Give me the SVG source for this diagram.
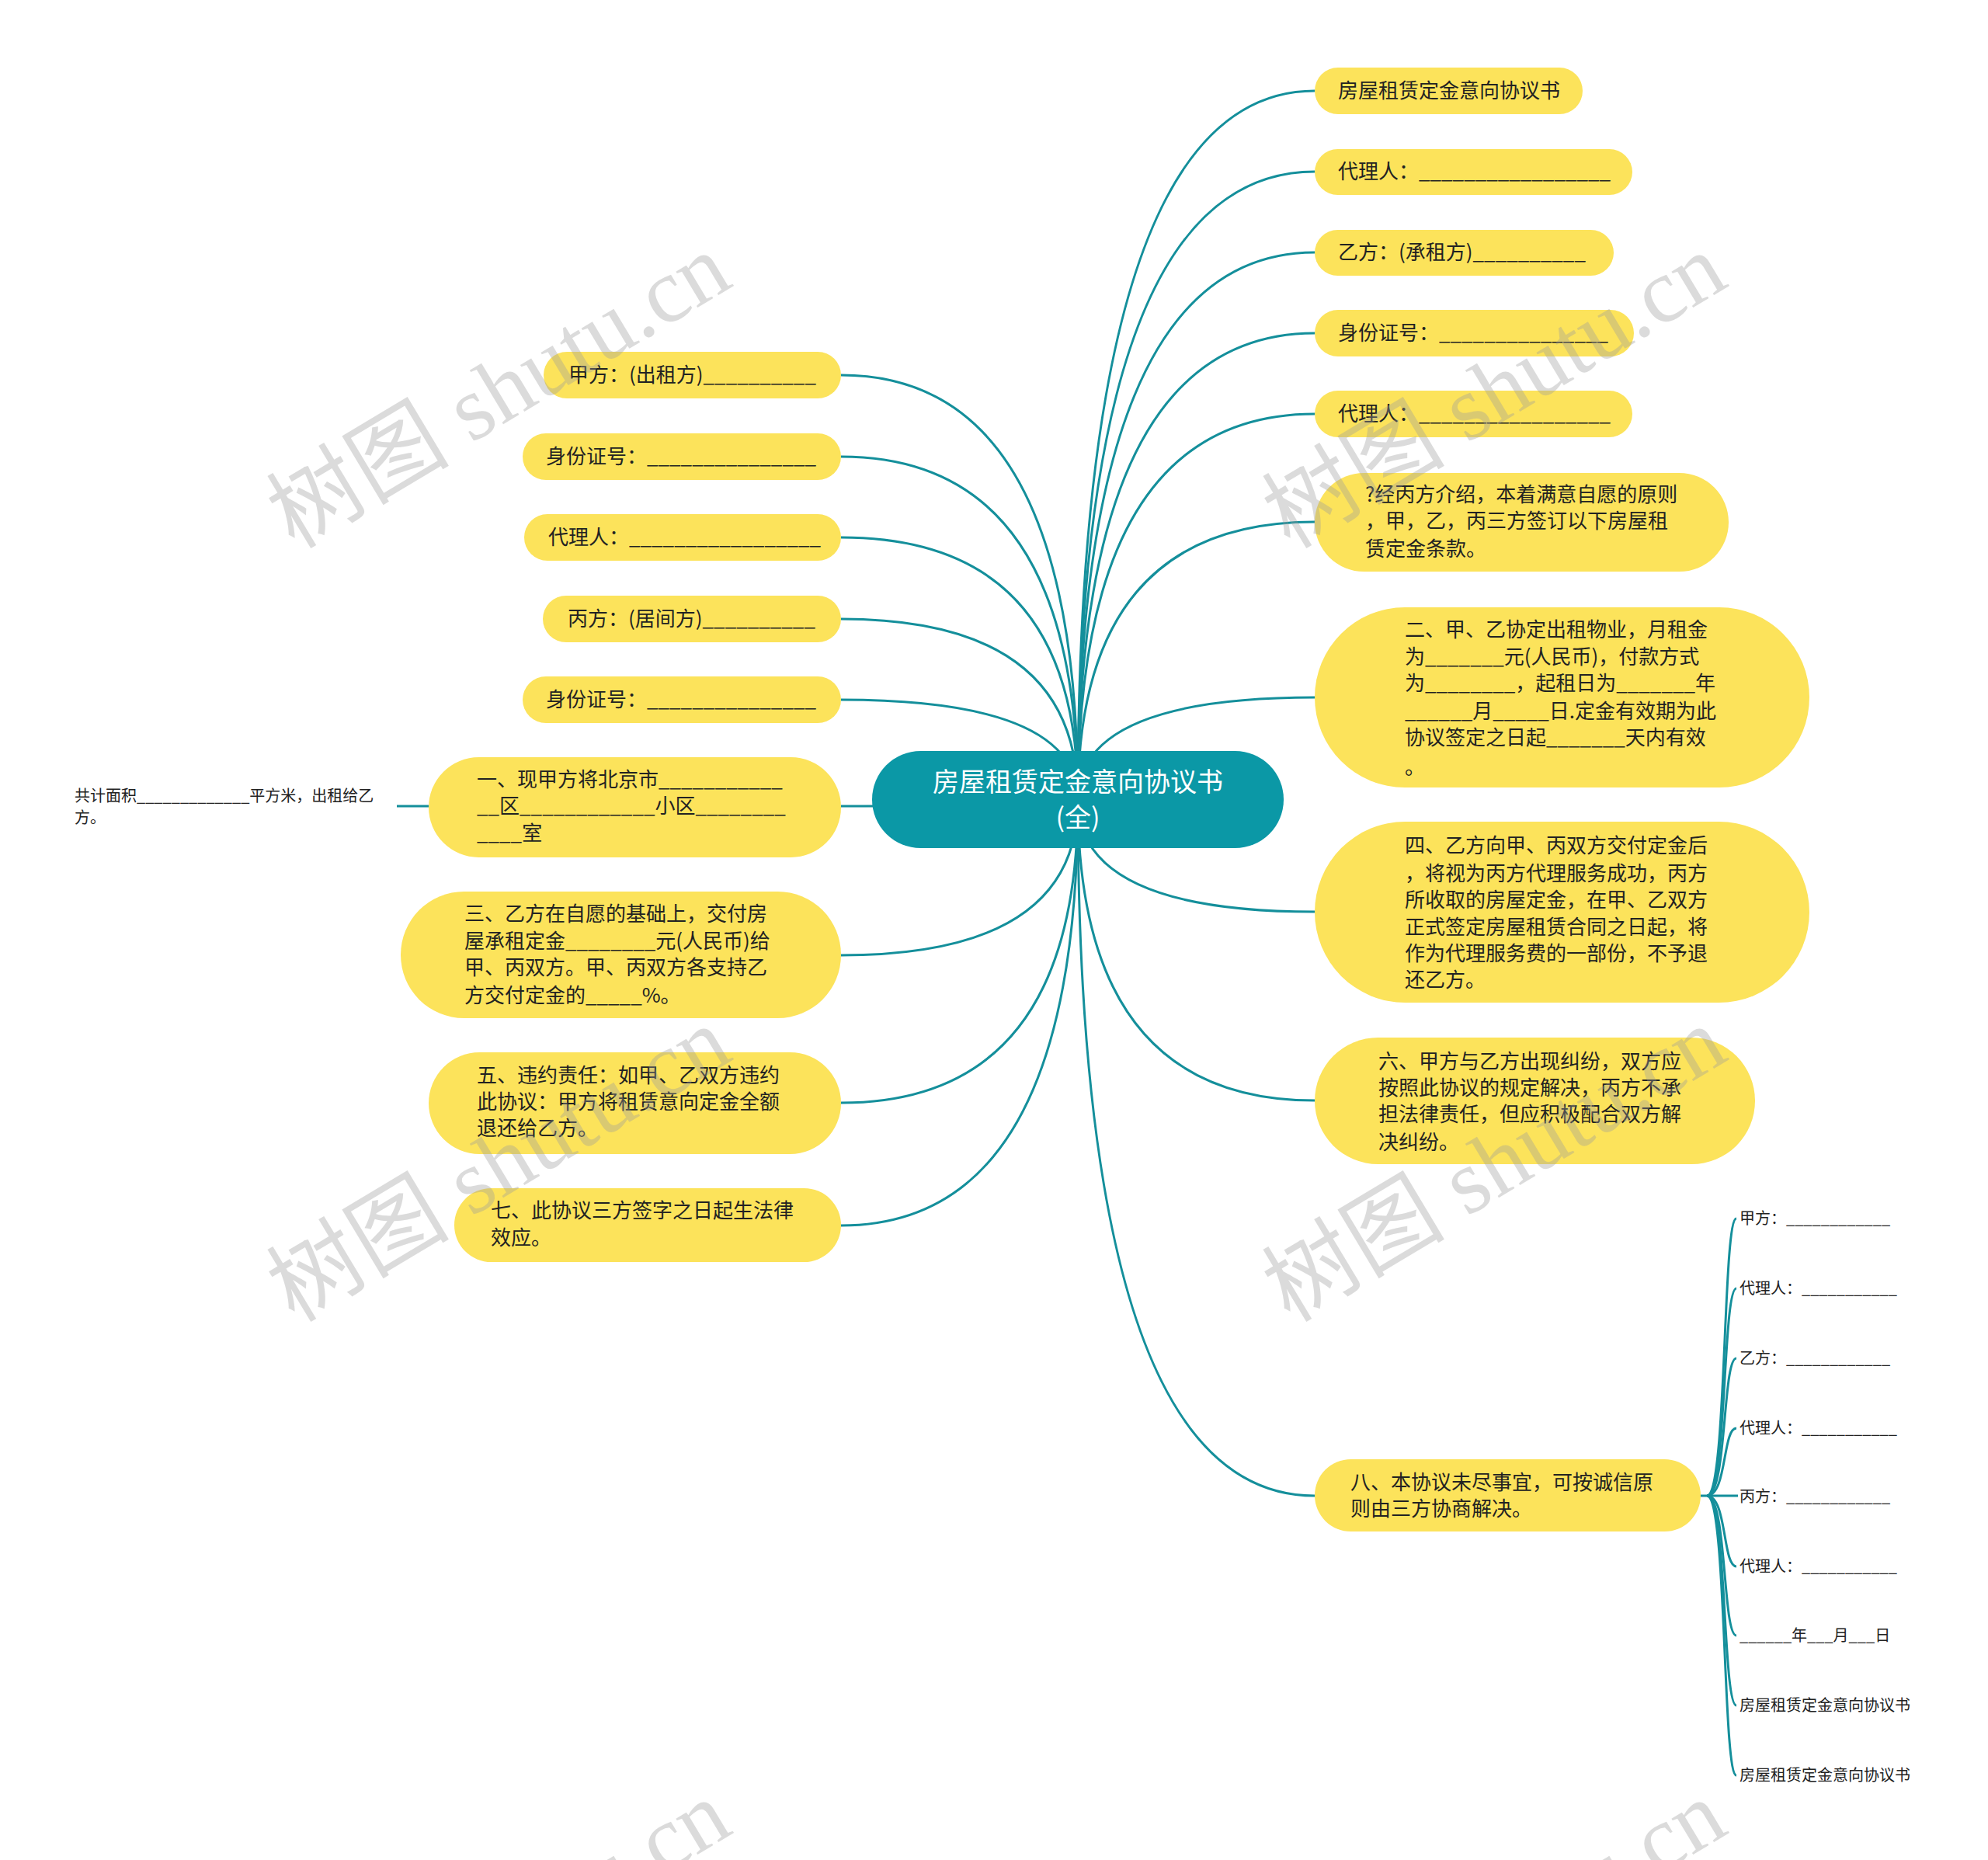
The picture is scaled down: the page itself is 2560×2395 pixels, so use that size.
<svg xmlns="http://www.w3.org/2000/svg" width="2560" height="2395" viewBox="0 0 2560 2395">
<style>
.bg{fill:#ffffff}
.node{fill:#fce35b}
.root{fill:#0b98a6}
.t{font-family:"Noto Sans CJK SC","Noto Sans",sans-serif;font-size:26px;fill:#222}
.rt{font-family:"Noto Sans CJK SC","Noto Sans",sans-serif;font-size:34px;fill:#ffffff;text-anchor:middle}
.s{font-family:"Noto Sans CJK SC","Noto Sans",sans-serif;font-size:20px;fill:#222}
.c{fill:none;stroke:#148f9b;stroke-width:3}
.wm{font-family:"Liberation Serif","Noto Sans CJK SC",serif;font-size:118px;fill:#9a9a9a;fill-opacity:0.36}
</style>
<rect class="bg" x="0" y="0" width="2560" height="2395"/>

<g id="connectors">
  <path class="c" d="M1388,1030 Q1388,117 1693,117"/>
  <path class="c" d="M1388,1030 Q1388,221 1693,221"/>
  <path class="c" d="M1388,1030 Q1388,325 1693,325"/>
  <path class="c" d="M1388,1030 Q1388,429 1693,429"/>
  <path class="c" d="M1388,1030 Q1388,533 1693,533"/>
  <path class="c" d="M1388,1030 Q1388,672 1693,672"/>
  <path class="c" d="M1388,1030 Q1388,898 1693,898"/>
  <path class="c" d="M1388,1030 Q1388,1174 1693,1174"/>
  <path class="c" d="M1388,1030 Q1388,1417 1693,1417"/>
  <path class="c" d="M1388,1030 Q1388,1926 1693,1926"/>
  <path class="c" d="M1388,1030 Q1388,483 1083,483"/>
  <path class="c" d="M1388,1030 Q1388,588 1083,588"/>
  <path class="c" d="M1388,1030 Q1388,692 1083,692"/>
  <path class="c" d="M1388,1030 Q1388,797 1083,797"/>
  <path class="c" d="M1388,1030 Q1388,901 1083,901"/>
  <path class="c" d="M1388,1030 Q1388,1038 1083,1038"/>
  <path class="c" d="M1388,1030 Q1388,1230 1083,1230"/>
  <path class="c" d="M1388,1030 Q1388,1420 1083,1420"/>
  <path class="c" d="M1388,1030 Q1388,1578 1083,1578"/>
  <path class="c" d="M552,1038 L511,1038"/>
  <path class="c" d="M2190,1926 L2238,1926"/>
  <path class="c" d="M2198,1926 C2224,1926 2218,1569 2236,1569"/>
  <path class="c" d="M2198,1926 C2224,1926 2218,1659 2236,1659"/>
  <path class="c" d="M2198,1926 C2224,1926 2218,1749 2236,1749"/>
  <path class="c" d="M2198,1926 C2224,1926 2218,1839 2236,1839"/>
  <path class="c" d="M2198,1926 C2224,1926 2218,2017 2236,2017"/>
  <path class="c" d="M2198,1926 C2224,1926 2218,2106 2236,2106"/>
  <path class="c" d="M2198,1926 C2224,1926 2218,2196 2236,2196"/>
  <path class="c" d="M2198,1926 C2224,1926 2218,2286 2236,2286"/>
</g>

<g id="root">
  <rect class="root" x="1123" y="967" width="530" height="125" rx="62.5"/>
  <text class="rt" x="1388" y="1019">房屋租赁定金意向协议书</text>
  <text class="rt" x="1388" y="1065">(全)</text>
</g>

<g id="r1"><rect class="node" x="1693" y="87" width="345" height="60" rx="30"/><text class="t" x="1723" y="126">房屋租赁定金意向协议书</text></g>
<g id="r2"><rect class="node" x="1693" y="192" width="409" height="59" rx="29.5"/><text class="t" x="1723" y="230">代理人：_________________</text></g>
<g id="r3"><rect class="node" x="1693" y="296" width="385" height="59" rx="29.5"/><text class="t" x="1723" y="334">乙方：(承租方)__________</text></g>
<g id="r4"><rect class="node" x="1693" y="399" width="411" height="60" rx="30"/><text class="t" x="1723" y="438">身份证号：_______________</text></g>
<g id="r5"><rect class="node" x="1693" y="503" width="409" height="60" rx="30"/><text class="t" x="1723" y="542">代理人：_________________</text></g>

<g id="r6"><rect class="node" x="1693" y="609" width="533" height="127" rx="63.5"/>
<text class="t"><tspan x="1758" y="646">?经丙方介绍，本着满意自愿的原则</tspan><tspan x="1758" y="680">，甲，乙，丙三方签订以下房屋租</tspan><tspan x="1758" y="716">赁定金条款。</tspan></text></g>

<g id="r7"><rect class="node" x="1693" y="782" width="637" height="232" rx="116"/>
<text class="t"><tspan x="1809" y="820">二、甲、乙协定出租物业，月租金</tspan><tspan x="1809" y="855">为_______元(人民币)，付款方式</tspan><tspan x="1809" y="889">为________，起租日为_______年</tspan><tspan x="1809" y="925">______月_____日.定金有效期为此</tspan><tspan x="1809" y="959">协议签定之日起_______天内有效</tspan><tspan x="1809" y="997">。</tspan></text></g>

<g id="r8"><rect class="node" x="1693" y="1058" width="637" height="233" rx="116.5"/>
<text class="t"><tspan x="1809" y="1098">四、乙方向甲、丙双方交付定金后</tspan><tspan x="1809" y="1134">，将视为丙方代理服务成功，丙方</tspan><tspan x="1809" y="1168">所收取的房屋定金，在甲、乙双方</tspan><tspan x="1809" y="1203">正式签定房屋租赁合同之日起，将</tspan><tspan x="1809" y="1237">作为代理服务费的一部份，不予退</tspan><tspan x="1809" y="1271">还乙方。</tspan></text></g>

<g id="r9"><rect class="node" x="1693" y="1336" width="567" height="163" rx="81.5"/>
<text class="t"><tspan x="1775" y="1376">六、甲方与乙方出现纠纷，双方应</tspan><tspan x="1775" y="1410">按照此协议的规定解决，丙方不承</tspan><tspan x="1775" y="1444">担法律责任，但应积极配合双方解</tspan><tspan x="1775" y="1480">决纠纷。</tspan></text></g>

<g id="r10"><rect class="node" x="1693" y="1879" width="497" height="93" rx="46.5"/>
<text class="t"><tspan x="1739" y="1918">八、本协议未尽事宜，可按诚信原</tspan><tspan x="1739" y="1952">则由三方协商解决。</tspan></text></g>

<g id="r10-children">
  <text class="s" x="2240" y="1576">甲方：____________</text>
  <text class="s" x="2240" y="1666">代理人：___________</text>
  <text class="s" x="2240" y="1756">乙方：____________</text>
  <text class="s" x="2240" y="1846">代理人：___________</text>
  <text class="s" x="2240" y="1934">丙方：____________</text>
  <text class="s" x="2240" y="2024">代理人：___________</text>
  <text class="s" x="2240" y="2113">______年___月___日</text>
  <text class="s" x="2240" y="2203">房屋租赁定金意向协议书</text>
  <text class="s" x="2240" y="2293">房屋租赁定金意向协议书</text>
</g>

<g id="l1"><rect class="node" x="700" y="453" width="383" height="60" rx="30"/><text class="t" x="732" y="492">甲方：(出租方)__________</text></g>
<g id="l2"><rect class="node" x="673" y="558" width="410" height="60" rx="30"/><text class="t" x="703" y="597">身份证号：_______________</text></g>
<g id="l3"><rect class="node" x="675" y="662" width="408" height="60" rx="30"/><text class="t" x="706" y="701">代理人：_________________</text></g>
<g id="l4"><rect class="node" x="699" y="767" width="384" height="60" rx="30"/><text class="t" x="731" y="806">丙方：(居间方)__________</text></g>
<g id="l5"><rect class="node" x="673" y="871" width="410" height="60" rx="30"/><text class="t" x="703" y="910">身份证号：_______________</text></g>

<g id="l6"><rect class="node" x="552" y="975" width="531" height="129" rx="64.5"/>
<text class="t"><tspan x="614" y="1013">一、现甲方将北京市___________</tspan><tspan x="614" y="1047">__区____________小区________</tspan><tspan x="614" y="1082">____室</tspan></text></g>

<g id="l6-child">
<text class="s"><tspan x="96" y="1032">共计面积_____________平方米，出租给乙</tspan><tspan x="96" y="1060">方。</tspan></text></g>

<g id="l7"><rect class="node" x="516" y="1148" width="567" height="163" rx="81.5"/>
<text class="t"><tspan x="598" y="1186">三、乙方在自愿的基础上，交付房</tspan><tspan x="598" y="1221">屋承租定金________元(人民币)给</tspan><tspan x="598" y="1255">甲、丙双方。甲、丙双方各支持乙</tspan><tspan x="598" y="1291">方交付定金的_____%。</tspan></text></g>

<g id="l8"><rect class="node" x="552" y="1355" width="531" height="131" rx="65.5"/>
<text class="t"><tspan x="614" y="1394">五、违约责任：如甲、乙双方违约</tspan><tspan x="614" y="1428">此协议：甲方将租赁意向定金全额</tspan><tspan x="614" y="1462">退还给乙方。</tspan></text></g>

<g id="l9"><rect class="node" x="585" y="1530" width="498" height="95" rx="47.5"/>
<text class="t"><tspan x="632" y="1568">七、此协议三方签字之日起生法律</tspan><tspan x="632" y="1603">效应。</tspan></text></g>

<g id="watermarks">
  <text class="wm" transform="translate(379,708) rotate(-31)">树图 shutu.cn</text>
  <text class="wm" transform="translate(1661,708) rotate(-31)">树图 shutu.cn</text>
  <text class="wm" transform="translate(379,1704) rotate(-31)">树图 shutu.cn</text>
  <text class="wm" transform="translate(1661,1704) rotate(-31)">树图 shutu.cn</text>
  <text class="wm" transform="translate(379,2700) rotate(-31)">树图 shutu.cn</text>
  <text class="wm" transform="translate(1661,2700) rotate(-31)">树图 shutu.cn</text>
</g>
</svg>
